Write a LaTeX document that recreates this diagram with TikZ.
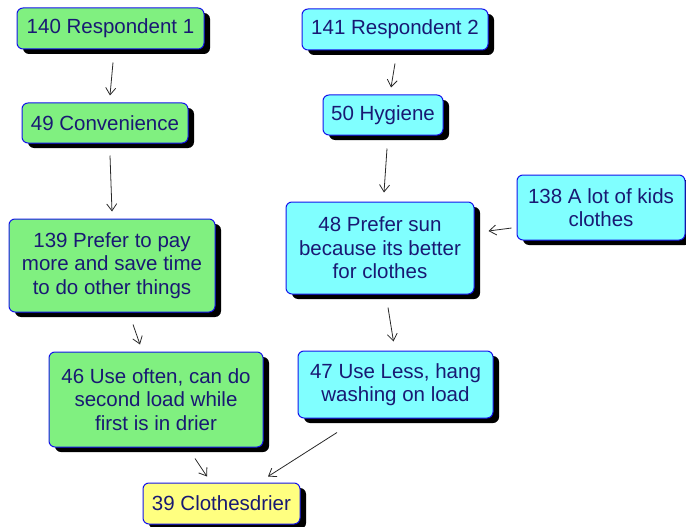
\documentclass[tikz,border=0pt]{standalone}
\usepackage{fontspec}
\setmainfont{Liberation Sans}
\usetikzlibrary{shadows,arrows.meta}
\definecolor{greenbox}{RGB}{128,240,128}
\definecolor{cyanbox}{RGB}{128,255,255}
\definecolor{yellowbox}{RGB}{255,255,128}
\definecolor{boxedge}{RGB}{20,20,235}
\definecolor{boxtext}{RGB}{25,25,115}
\definecolor{linkcol}{RGB}{40,40,40}
\tikzset{
  card/.style={draw=boxedge, line width=1pt, rounded corners=6pt,
    text=boxtext, align=center, inner sep=0pt,
    font=\fontsize{20.5}{23.5}\selectfont,
    drop shadow={shadow xshift=6pt, shadow yshift=-5pt, fill=black, opacity=1}},
  gcard/.style={card, fill=greenbox},
  ccard/.style={card, fill=cyanbox},
  ycard/.style={card, fill=yellowbox},
  link/.style={draw=linkcol, line width=0.8pt,
    -{Straight Barb[length=7pt,width=10pt,line width=0.8pt]}}
}
\begin{document}
\begin{tikzpicture}[x=1pt,y=-1pt]
\useasboundingbox (0,0) rectangle (686,527);
\clip (0,0) rectangle (686,527);

% left chain
\node[gcard, minimum width=187pt, minimum height=41pt] (n140) at (110.5,28.5) {140 Respondent 1};
\node[gcard, minimum width=166pt, minimum height=40pt] (n49) at (105,123) {49 Convenience};
\node[gcard, minimum width=206pt, minimum height=93pt] (n139) at (112,265.5) {139 Prefer to pay\\more and save time\\to do other things};
\node[gcard, minimum width=214pt, minimum height=95pt] (n46) at (156,399.5) {46 Use often, can do\\second load while\\first is in drier};

% right chain
\node[ccard, minimum width=186pt, minimum height=41pt] (n141) at (395,29.5) {141 Respondent 2};
\node[ccard, minimum width=120pt, minimum height=40pt] (n50) at (383,115) {50 Hygiene};
\node[ccard, minimum width=188pt, minimum height=92pt] (n48) at (380,248) {48 Prefer sun\\because its better\\for clothes};
\node[ccard, minimum width=168pt, minimum height=65pt] (n138) at (601,207.5) {138 A lot of kids\\clothes};
\node[ccard, minimum width=195pt, minimum height=67pt] (n47) at (395.5,384.5) {47 Use Less, hang\\washing on load};

% goal
\node[ycard, minimum width=157pt, minimum height=41pt] (n39) at (221.5,503.5) {39 Clothesdrier};

% links
\draw[link] ([shift={(2.5,13)}]n140.south) -- ([shift={(5,-7)}]n49.north);
\draw[link] ([shift={(5,12)}]n49.south) -- ([shift={(0,-7)}]n139.north);
\draw[link] ([shift={(21,12)}]n139.south) -- ([shift={(-16,-7)}]n46.north);
\draw[link] ([shift={(39,11)}]n46.south) -- ([shift={(-14.5,-6)}]n39.north);

\draw[link] ([shift={(0,13)}]n141.south) -- ([shift={(8,-7)}]n50.north);
\draw[link] ([shift={(4,13)}]n50.south) -- ([shift={(4,-9)}]n48.north);
\draw[link] ([shift={(-5,20.5)}]n138.west) -- ([shift={(14,-17)}]n48.east);
\draw[link] ([shift={(8,13)}]n48.south) -- ([shift={(-2,-9)}]n47.north);
\draw[link] ([shift={(-58.5,14)}]n47.south) -- ([shift={(46.5,-6)}]n39.north);
\end{tikzpicture}
\end{document}
